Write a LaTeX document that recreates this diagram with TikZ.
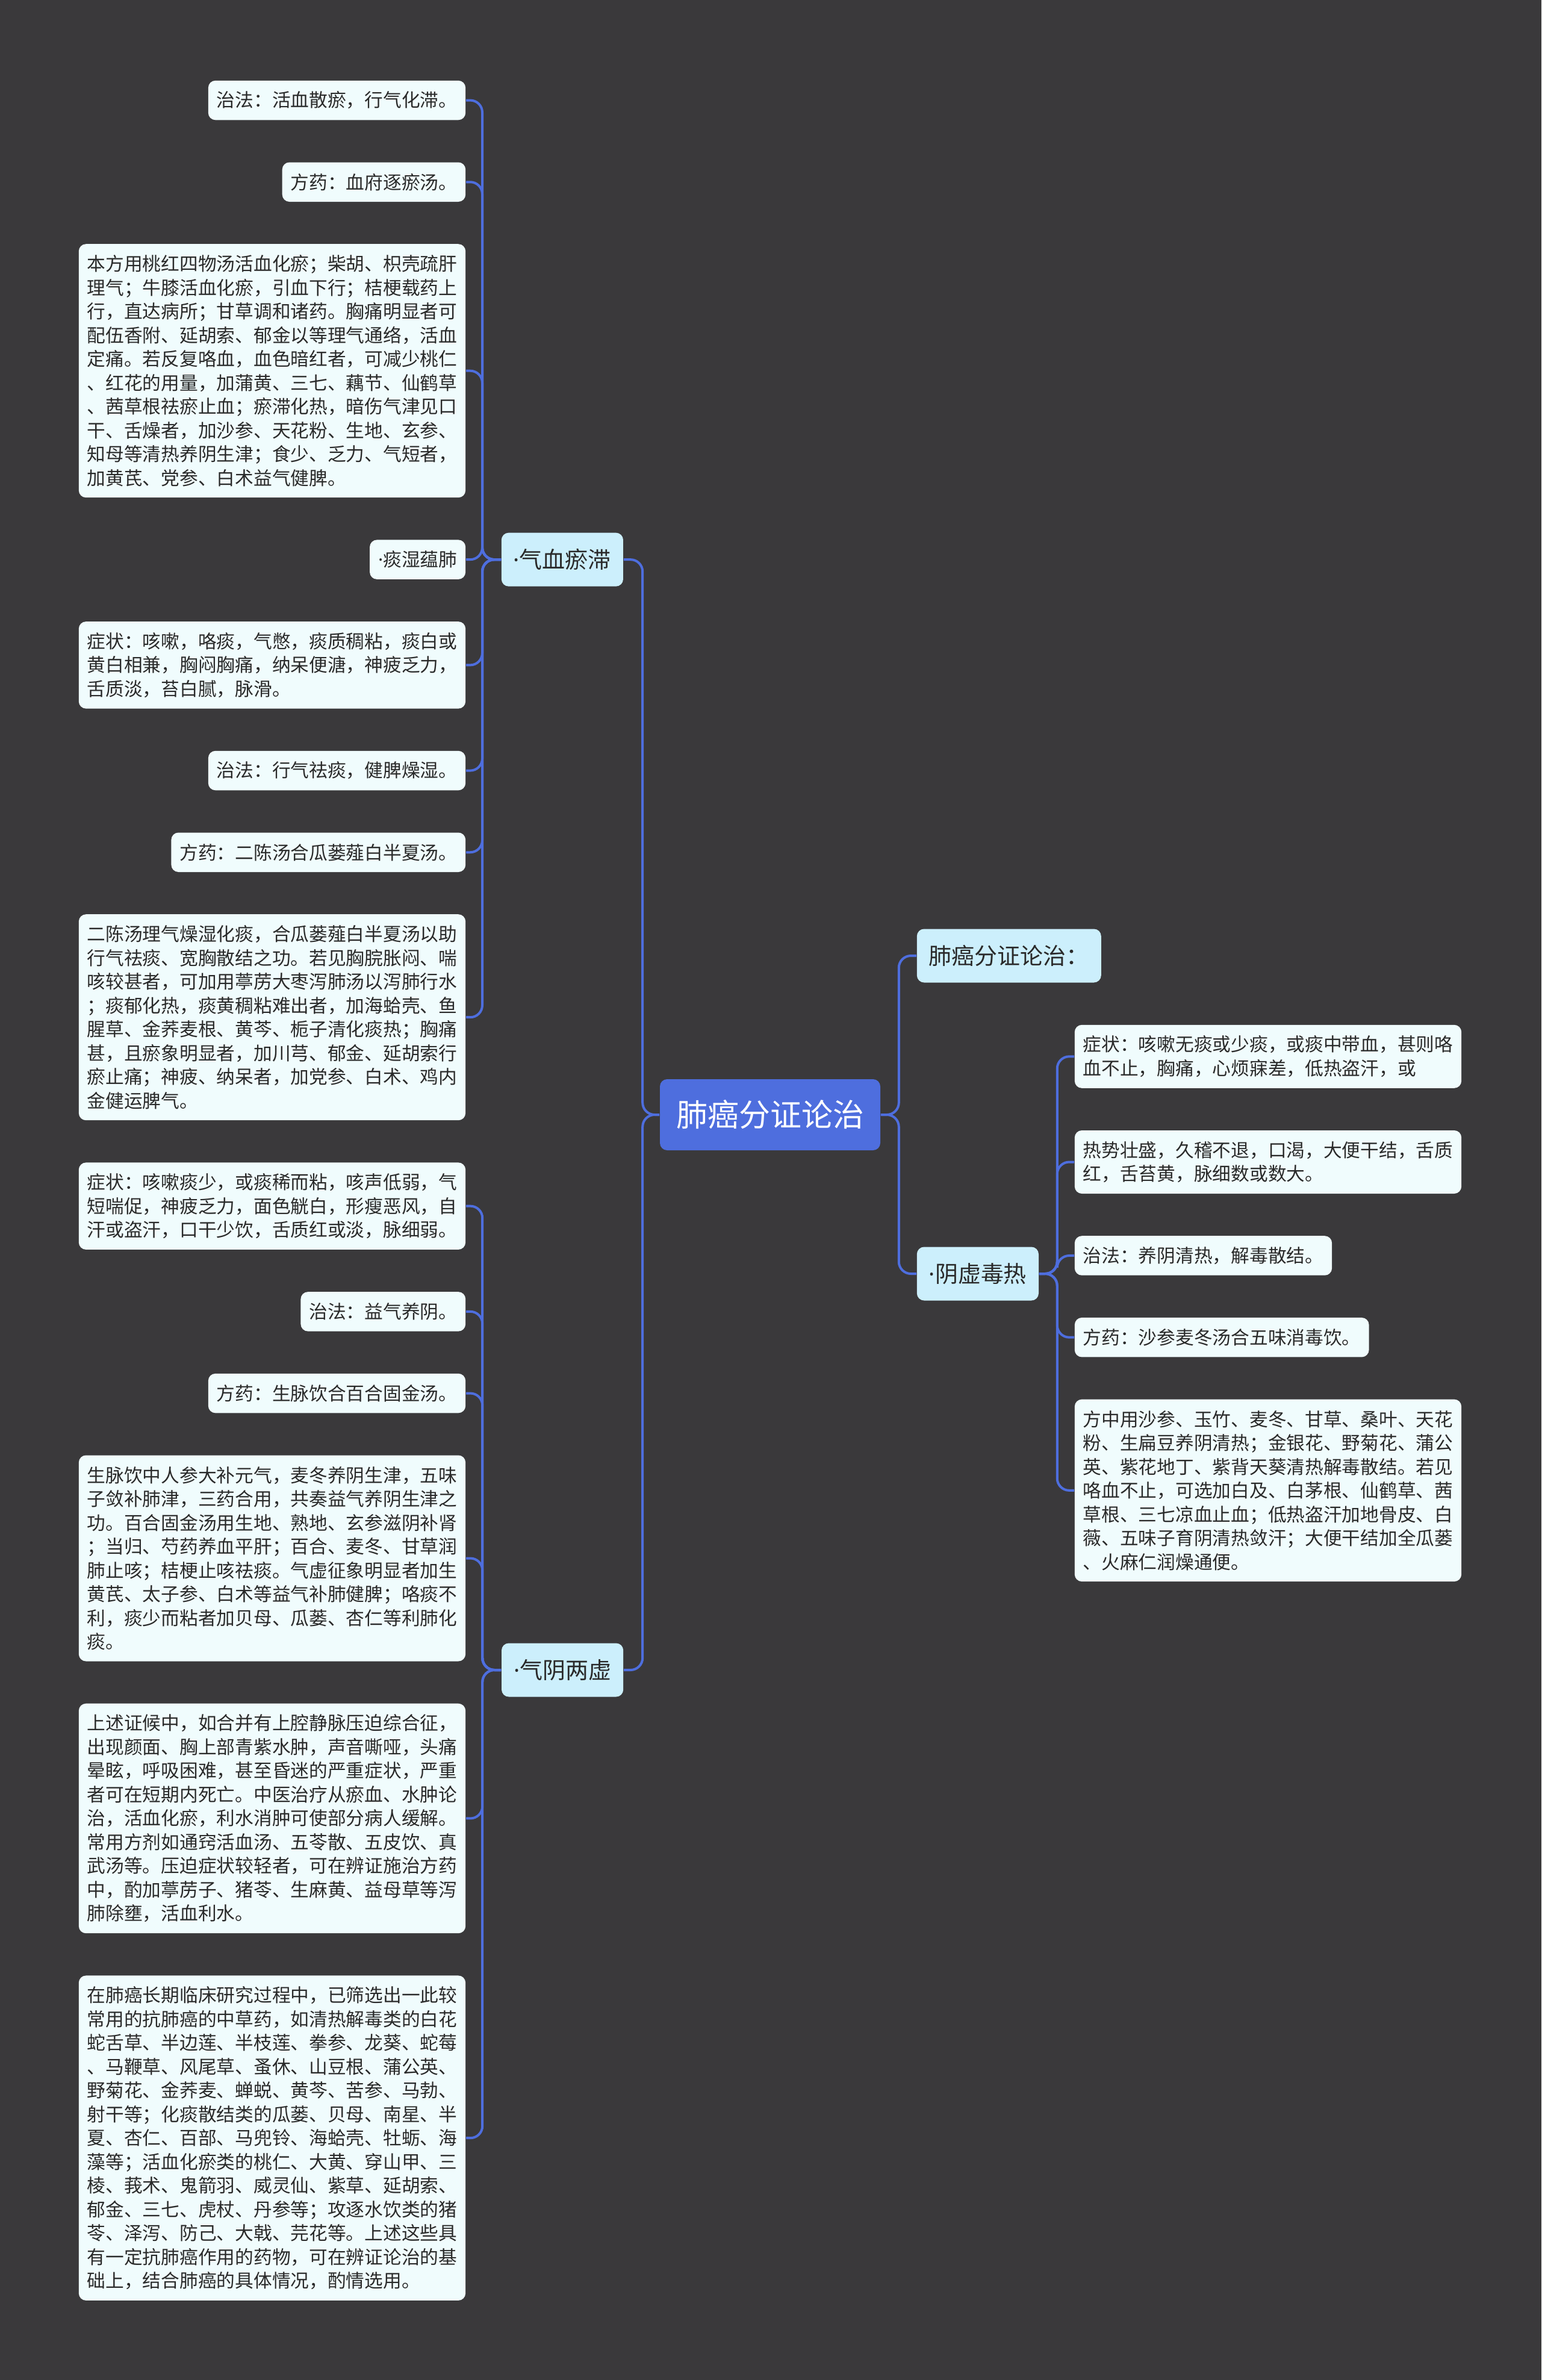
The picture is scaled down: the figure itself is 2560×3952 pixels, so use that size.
\documentclass[tikz,border=0pt]{standalone}
\usepackage{fontspec}
\setmainfont{Noto Sans CJK SC}
\newfontfamily\dotfont{Noto Sans}
\usetikzlibrary{positioning}

\definecolor{bgcol}{HTML}{3A393B}
\definecolor{rootblue}{HTML}{4E6EDE}
\definecolor{linkblue}{HTML}{4E6EDE}
\definecolor{branchbg}{HTML}{CCEFFC}
\definecolor{leafbg}{HTML}{F0FCFD}
\definecolor{inkcol}{HTML}{2A2A2A}

\newcommand\leaffont{\fontsize{7.68pt}{9.875pt}\selectfont}
\newcommand\branchfont{\fontsize{9.5pt}{11pt}\selectfont}
\newcommand\rootfont{\fontsize{13pt}{15pt}\selectfont}
\newcommand\mdot{{\dotfont ·}}

\tikzset{
    leaf/.style={fill=leafbg, rounded corners=3pt, text=inkcol, font=\leaffont,
        align=left, inner xsep=3.5pt, inner ysep=0pt,
        minimum height={#1*9.875pt+6.5pt}},
    leaf/.default=1,
    branch/.style={fill=branchbg, rounded corners=3pt, text=inkcol, font=\branchfont,
        inner xsep=5pt, inner ysep=0pt, minimum height=22.25pt},
    rootbox/.style={fill=rootblue, rounded corners=3pt, text=white, font=\rootfont,
        inner xsep=6.75pt, inner ysep=0pt, minimum height=29.5pt},
    link/.style={draw=linkblue, line width=1pt, rounded corners=5pt},
    stackl/.style={below left=17.15pt and 0pt of #1.south east},
    stackr/.style={below right=17.15pt and 0pt of #1.south west}
}

\begin{document}
\begin{tikzpicture}[x=0.25pt, y=-0.25pt]
    \fill[bgcol] (0, 0) rectangle (2560, 3952);

    \node[rootbox] (root) at (1279, 1851) {肺癌分证论治};

    \node[leaf, anchor=north east] (l1) at (774, 133) {治法：活血散瘀，行气化滞。};
    \node[leaf, stackl=l1] (l2) {方药：血府逐瘀汤。};
    \node[leaf=10, stackl=l2] (l3) {本方用桃红四物汤活血化瘀；柴胡、枳壳疏肝\\
        理气；牛膝活血化瘀，引血下行；桔梗载药上\\
        行，直达病所；甘草调和诸药。胸痛明显者可\\
        配伍香附、延胡索、郁金以等理气通络，活血\\
        定痛。若反复咯血，血色暗红者，可减少桃仁\\
        、红花的用量，加蒲黄、三七、藕节、仙鹤草\\
        、茜草根祛瘀止血；瘀滞化热，暗伤气津见口\\
        干、舌燥者，加沙参、天花粉、生地、玄参、\\
        知母等清热养阴生津；食少、乏力、气短者，\\
        加黄芪、党参、白术益气健脾。};
    \node[leaf, stackl=l3] (l4) {\mdot 痰湿蕴肺};
    \node[leaf=3, stackl=l4] (l5) {症状：咳嗽，咯痰，气憋，痰质稠粘，痰白或\\
        黄白相兼，胸闷胸痛，纳呆便溏，神疲乏力，\\
        舌质淡，苔白腻，脉滑。};
    \node[leaf, stackl=l5] (l6) {治法：行气祛痰，健脾燥湿。};
    \node[leaf, stackl=l6] (l7) {方药：二陈汤合瓜蒌薤白半夏汤。};
    \node[leaf=8, stackl=l7] (l8) {二陈汤理气燥湿化痰，合瓜蒌薤白半夏汤以助\\
        行气祛痰、宽胸散结之功。若见胸脘胀闷、喘\\
        咳较甚者，可加用葶苈大枣泻肺汤以泻肺行水\\
        ；痰郁化热，痰黄稠粘难出者，加海蛤壳、鱼\\
        腥草、金荞麦根、黄芩、栀子清化痰热；胸痛\\
        甚，且瘀象明显者，加川芎、郁金、延胡索行\\
        瘀止痛；神疲、纳呆者，加党参、白术、鸡内\\
        金健运脾气。};
    \node[leaf=3, stackl=l8] (l9) {症状：咳嗽痰少，或痰稀而粘，咳声低弱，气\\
        短喘促，神疲乏力，面色觥白，形瘦恶风，自\\
        汗或盗汗，口干少饮，舌质红或淡，脉细弱。};
    \node[leaf, stackl=l9] (l10) {治法：益气养阴。};
    \node[leaf, stackl=l10] (l11) {方药：生脉饮合百合固金汤。};
    \node[leaf=8, stackl=l11] (l12) {生脉饮中人参大补元气，麦冬养阴生津，五味\\
        子敛补肺津，三药合用，共奏益气养阴生津之\\
        功。百合固金汤用生地、熟地、玄参滋阴补肾\\
        ；当归、芍药养血平肝；百合、麦冬、甘草润\\
        肺止咳；桔梗止咳祛痰。气虚征象明显者加生\\
        黄芪、太子参、白术等益气补肺健脾；咯痰不\\
        利，痰少而粘者加贝母、瓜蒌、杏仁等利肺化\\
        痰。};
    \node[leaf=9, stackl=l12] (l13) {上述证候中，如合并有上腔静脉压迫综合征，\\
        出现颜面、胸上部青紫水肿，声音嘶哑，头痛\\
        晕眩，呼吸困难，甚至昏迷的严重症状，严重\\
        者可在短期内死亡。中医治疗从瘀血、水肿论\\
        治，活血化瘀，利水消肿可使部分病人缓解。\\
        常用方剂如通窍活血汤、五苓散、五皮饮、真\\
        武汤等。压迫症状较轻者，可在辨证施治方药\\
        中，酌加葶苈子、猪苓、生麻黄、益母草等泻\\
        肺除壅，活血利水。};
    \node[leaf=13, stackl=l13] (l14) {在肺癌长期临床研究过程中，已筛选出一此较\\
        常用的抗肺癌的中草药，如清热解毒类的白花\\
        蛇舌草、半边莲、半枝莲、拳参、龙葵、蛇莓\\
        、马鞭草、风尾草、蚤休、山豆根、蒲公英、\\
        野菊花、金荞麦、蝉蜕、黄芩、苦参、马勃、\\
        射干等；化痰散结类的瓜蒌、贝母、南星、半\\
        夏、杏仁、百部、马兜铃、海蛤壳、牡蛎、海\\
        藻等；活血化瘀类的桃仁、大黄、穿山甲、三\\
        棱、莪术、鬼箭羽、威灵仙、紫草、延胡索、\\
        郁金、三七、虎杖、丹参等；攻逐水饮类的猪\\
        苓、泽泻、防己、大戟、芫花等。上述这些具\\
        有一定抗肺癌作用的药物，可在辨证论治的基\\
        础上，结合肺癌的具体情况，酌情选用。};

    \node[branch, right=14.5pt of l4] (xueyu) {\mdot 气血瘀滞};
    \node[branch, anchor=east] (qiyin) at (1036, 2773) {\mdot 气阴两虚};
    \node[branch, anchor=west] (zhengzhi) at (1522, 1587) {肺癌分证论治：};
    \node[branch, anchor=west] (yinxu) at (1522, 2115) {\mdot 阴虚毒热};

    \node[leaf=2, anchor=north west] (r1) at (1784, 1701) {症状：咳嗽无痰或少痰，或痰中带血，甚则咯\\
        血不止，胸痛，心烦寐差，低热盗汗，或};
    \node[leaf=2, stackr=r1] (r2) {热势壮盛，久稽不退，口渴，大便干结，舌质\\
        红，舌苔黄，脉细数或数大。};
    \node[leaf, stackr=r2] (r3) {治法：养阴清热，解毒散结。};
    \node[leaf, stackr=r3] (r4) {方药：沙参麦冬汤合五味消毒饮。};
    \node[leaf=7, stackr=r4] (r5) {方中用沙参、玉竹、麦冬、甘草、桑叶、天花\\
        粉、生扁豆养阴清热；金银花、野菊花、蒲公\\
        英、紫花地丁、紫背天葵清热解毒散结。若见\\
        咯血不止，可选加白及、白茅根、仙鹤草、茜\\
        草根、三七凉血止血；低热盗汗加地骨皮、白\\
        薇、五味子育阴清热敛汗；大便干结加全瓜蒌\\
        、火麻仁润燥通便。};

    \draw[link] (root.west) -- ++(-28, 0) |- (xueyu.east);
    \draw[link] (root.west) -- ++(-28, 0) |- (qiyin.east);
    \draw[link] (root.east) -- ++(30, 0) |- (zhengzhi.west);
    \draw[link] (root.east) -- ++(30, 0) |- (yinxu.west);
    \foreach \i in {1, ..., 8} {
        \draw[link] (xueyu.west) -- ++(-31, 0) |- (l\i.east);
    }
    \foreach \i in {9, ..., 14} {
        \draw[link] (qiyin.west) -- ++(-31, 0) |- (l\i.east);
    }
    \foreach \i in {1, ..., 5} {
        \draw[link] (yinxu.east) -- ++(30, 0) |- (r\i.west);
    }
\end{tikzpicture}
\end{document}
